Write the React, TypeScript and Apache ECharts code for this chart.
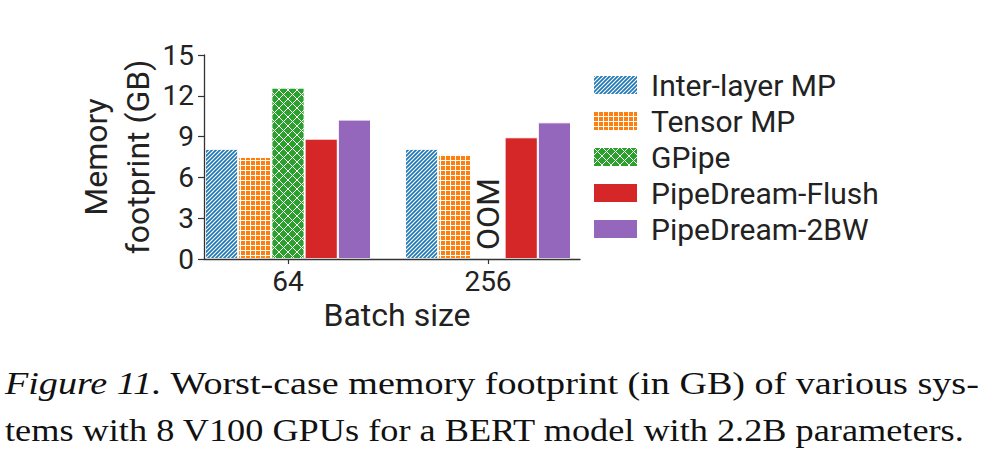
import React, { useEffect, useRef } from "react";
import * as echarts from "echarts";

// ---------------- data ----------------
const categories = ["64", "256"];
const seriesNames = ["Inter-layer MP", "Tensor MP", "GPipe", "PipeDream-Flush", "PipeDream-2BW"];
const interLayerMP = [8.1, 8.1];
const tensorMP = [7.5, 7.7];
const gpipe = [12.6, 0];
const gpipeOOM = [false, true];
const pipeDreamFlush = [8.85, 8.95];
const pipeDream2BW = [10.25, 10.05];
const yMin = 0;
const yMax = 15;
const yInterval = 3;
const yAxisName = "Memory\nfootprint (GB)";
const xAxisName = "Batch size";
const oomText = "OOM";
const captionItalic = "Figure 11.";
const captionLine1 = " Worst-case memory footprint (in GB) of various sys-";
const captionLine2 = "tems with 8 V100 GPUs for a BERT model with 2.2B parameters.";

const COLORS = ["#1f77b4", "#ff7f0e", "#2ca02c", "#d62728", "#9467bd"];
const FONT = "Roboto";
const SERIF = '"Liberation Serif", "Times New Roman", Times, serif';
const TEXT_COLOR = "#222";
const AXIS_COLOR = "#333";

function makePattern(kind: string, bg: string) {
  const s = kind === "diag" ? 8 : kind === "grid" ? 5 : 9;
  const c = document.createElement("canvas");
  c.width = s;
  c.height = s;
  const ctx = c.getContext("2d")!;
  ctx.fillStyle = bg;
  ctx.fillRect(0, 0, s, s);
  ctx.strokeStyle = "#ffffff";
  ctx.lineWidth = kind === "diag" ? 1.15 : 1;
  ctx.beginPath();
  if (kind === "diag") {
    const step = 4;
    for (let k = -s; k <= 2 * s; k += step) {
      ctx.moveTo(k - 1, s + 1);
      ctx.lineTo(k + s + 1, -1);
    }
  } else if (kind === "grid") {
    ctx.moveTo(0.5, 0);
    ctx.lineTo(0.5, s);
    ctx.moveTo(0, 0.5);
    ctx.lineTo(s, 0.5);
  } else {
    for (let k = -s; k <= s; k += s) {
      ctx.moveTo(k - 1, -1);
      ctx.lineTo(k + s + 1, s + 1);
      ctx.moveTo(k - 1, s + 1);
      ctx.lineTo(k + s + 1, -1);
    }
  }
  ctx.stroke();
  return { image: c, repeat: "repeat", imageWidth: s, imageHeight: s } as any;
}

function measure(text: string, font: string) {
  const c = document.createElement("canvas");
  const ctx = c.getContext("2d")!;
  ctx.font = font;
  return ctx.measureText(text).width;
}

export default function App() {
  const ref = useRef<HTMLDivElement>(null);

  useEffect(() => {
    if (!ref.current) return;
    const chart = echarts.init(ref.current, null, { renderer: "svg" });

    const fills = [
      makePattern("diag", COLORS[0]),
      makePattern("grid", COLORS[1]),
      makePattern("cross", COLORS[2]),
      COLORS[3],
      COLORS[4],
    ];
    const values = [interLayerMP, tensorMP, gpipe, pipeDreamFlush, pipeDream2BW];

    const series = seriesNames.map((name, si) => ({
      type: "bar",
      name,
      xAxisIndex: 0,
      yAxisIndex: 0,
      barGap: "0%",
      barCategoryGap: "17%",
      itemStyle: { color: fills[si], borderColor: "#ffffff", borderWidth: 1 },
      emphasis: { disabled: true },
      data: values[si].map((v, i) => {
        if (si === 2 && gpipeOOM[i]) {
          return {
            value: v,
            itemStyle: { borderWidth: 0 },
            label: {
              show: true,
              formatter: oomText,
              position: "top",
              distance: 9,
              rotate: 90,
              align: "left",
              verticalAlign: "middle",
              fontSize: 32,
              fontFamily: FONT,
              color: TEXT_COLOR,
            },
          };
        }
        return { value: v };
      }),
    }));

    const capSize = 32;
    const itW = measure(captionItalic, `italic ${capSize}px ${SERIF}`);
    const l1W = measure(captionLine1, `${capSize}px ${SERIF}`);
    const l2W = measure(captionLine2, `${capSize}px ${SERIF}`);
    const scale1 = 975 / (itW + l1W);
    const scale2 = 960 / l2W;

    chart.setOption({
      animation: false,
      backgroundColor: "#ffffff",
      grid: [
        { left: 188, width: 400, top: 55, height: 204, outerBoundsMode: "none" },
        { left: 204, width: 376, top: 55, height: 204, outerBoundsMode: "none" },
      ],
      legend: {
        orient: "vertical",
        left: 592,
        top: 70,
        padding: 0,
        itemWidth: 45,
        itemHeight: 20,
        itemGap: 6,
        icon: "rect",
        selectedMode: false,
        data: seriesNames,
        textStyle: { fontSize: 30, fontFamily: FONT, color: TEXT_COLOR, padding: [0, 0, 0, 8] },
      },
      xAxis: [
        {
          type: "category",
          gridIndex: 0,
          data: categories,
          axisLine: { show: false },
          axisTick: { show: true, alignWithLabel: true, length: 5, lineStyle: { color: AXIS_COLOR, width: 1.2 } },
          axisLabel: { fontSize: 28, fontFamily: FONT, color: TEXT_COLOR, margin: 8 },
          splitLine: { show: false },
        },
        {
          type: "value",
          gridIndex: 1,
          min: 0,
          max: 1,
          z: 5,
          axisLine: { show: true, onZero: false, lineStyle: { color: AXIS_COLOR, width: 1.3 } },
          axisTick: { show: false },
          axisLabel: { show: false },
          splitLine: { show: false },
          name: xAxisName,
          nameLocation: "middle",
          nameGap: 40,
          nameTextStyle: { fontSize: 32, fontFamily: FONT, color: TEXT_COLOR, padding: [0, 0, 0, 10] },
        },
      ],
      yAxis: [
        { type: "value", gridIndex: 0, min: yMin, max: yMax, show: false },
        {
          type: "value",
          gridIndex: 1,
          min: yMin,
          max: yMax,
          interval: yInterval,
          z: 5,
          axisLine: { show: true, lineStyle: { color: AXIS_COLOR, width: 1.3 } },
          axisTick: { show: true, length: 6, lineStyle: { color: AXIS_COLOR, width: 1.2 } },
          axisLabel: { fontSize: 28, fontFamily: FONT, color: TEXT_COLOR, margin: 10 },
          splitLine: { show: false },
          name: yAxisName,
          nameLocation: "middle",
          nameRotate: 90,
          nameGap: 43,
          nameTextStyle: { fontSize: 32, fontFamily: FONT, color: TEXT_COLOR, lineHeight: 42, align: "center" },
        },
      ],
      graphic: [
        {
          type: "text",
          x: 5,
          y: 384,
          scaleX: scale1,
          style: {
            text: `{it|${captionItalic}}{n|${captionLine1}}`,
            font: `${capSize}px ${SERIF}`,
            fill: "#111",
            verticalAlign: "middle",
            align: "left",
            rich: {
              it: { font: `italic ${capSize}px ${SERIF}`, fontStyle: "italic", fontSize: capSize, fontFamily: SERIF, fill: "#111" },
              n: { font: `${capSize}px ${SERIF}`, fontSize: capSize, fontFamily: SERIF, fill: "#111" },
            },
          },
        },
        {
          type: "text",
          x: 5,
          y: 430,
          scaleX: scale2,
          style: {
            text: captionLine2,
            font: `${capSize}px ${SERIF}`,
            fill: "#111",
            verticalAlign: "middle",
            align: "left",
          },
        },
      ],
      series,
    } as any);

    return () => chart.dispose();
  }, []);

  return (
    <div
      ref={ref}
      style={{ position: "absolute", left: 0, top: 0, width: 994, height: 455, background: "#fff" }}
    />
  );
}
